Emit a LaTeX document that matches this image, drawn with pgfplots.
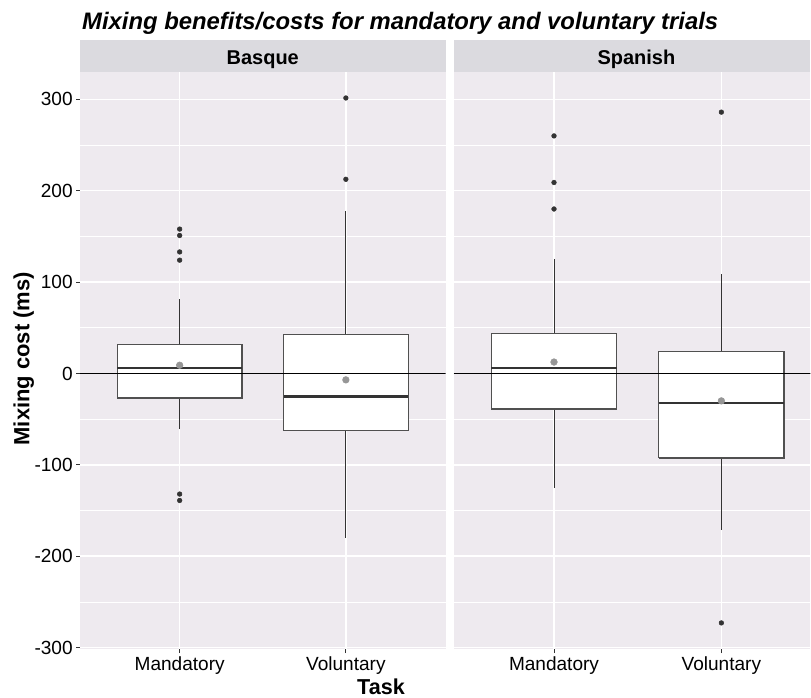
\documentclass[border=0pt]{standalone}
\usepackage{fontspec}
\setmainfont{Liberation Sans}
\usepackage{pgfplots}
\pgfplotsset{compat=1.18}
\definecolor{panelbg}{RGB}{238,234,239}
\definecolor{stripbg}{RGB}{219,218,223}
\definecolor{boxc}{RGB}{80,80,80}
\definecolor{dotc}{RGB}{51,51,51}
\definecolor{meanc}{RGB}{150,150,150}
\pgfplotsset{
  panel/.style={
    scale only axis, height=433.5pt,
    xmin=0.4, ymin=-302, ymax=330,
    axis background/.style={fill=panelbg},
    axis line style={draw=none},
    xtick={1,2}, xticklabels={Mandatory,Voluntary},
    ytick={-300,-200,-100,0,100,200,300},
    minor ytick={-250,-150,-50,50,150,250},
    grid=both,
    major grid style={white, line width=1.1pt},
    minor grid style={white, line width=0.55pt},
    tick align=outside, tick pos=left,
    major tick length=2.75pt, minor tick length=0pt,
    tick style={color=dotc, line width=0.6pt},
    /pgf/number format/assume math mode=true,
    ticklabel style={font=\fontsize{14.3}{16}\selectfont, text=black},
    xticklabel style={inner sep=0pt, yshift=-2.5pt, anchor=north},
    yticklabel style={inner sep=0pt, xshift=-2.5pt, anchor=east},
  },
  outl/.style={only marks, mark=*, mark size=1.75pt, color=dotc},
  meanp/.style={only marks, mark=*, mark size=2.5pt, color=meanc},
  zl/.style={black, line width=0.75pt},
}
% #1 centre, #2 left edge, #3 right edge, #4 lower whisker, #5 Q1, #6 median, #7 Q3, #8 upper whisker
\newcommand{\bx}[8]{%
  \addplot[dotc, line width=0.65pt] coordinates {(#1,#4) (#1,#5)};
  \addplot[dotc, line width=0.65pt] coordinates {(#1,#7) (#1,#8)};
  \addplot[draw=boxc, fill=white, line width=1pt, line join=miter] coordinates {(#2,#5) (#3,#5) (#3,#7) (#2,#7) (#2,#5)};
  \addplot[dotc, line width=1.8pt] coordinates {(#2,#6) (#3,#6)};
}
\begin{document}
\begin{tikzpicture}
\fill[white] (0,0) rectangle (608.25pt,-523.5pt);
% title
\node[anchor=base west, inner sep=0pt, font=\fontsize{17.9}{20}\selectfont\bfseries\itshape] at (61.5pt,-22pt) {Mixing benefits/costs for mandatory and voluntary trials};
% strips
\fill[stripbg] (60pt,-30pt) rectangle (334.5pt,-54pt);
\fill[stripbg] (340.5pt,-30pt) rectangle (608.25pt,-54pt);
\node[anchor=base, inner sep=0pt, font=\fontsize{15}{17}\selectfont\bfseries] at (197.25pt,-48.75pt) {Basque};
\node[anchor=base, inner sep=0pt, font=\fontsize{15}{17}\selectfont\bfseries] at (477.75pt,-48.75pt) {Spanish};
% left panel
\begin{axis}[panel, width=274.5pt, xmax=2.6, at={(60pt,-487.5pt)}, anchor=south west,
  yticklabels={-300,-200,-100,0,100,200,300}]
\bx{1}{0.625}{1.375}{-61}{-27}{6}{32}{82}
\bx{2}{1.625}{2.375}{-180}{-62.5}{-25}{43}{178}
\addplot[outl] coordinates {(1,158) (1,151) (1,133) (1,124) (1,-132) (1,-139) (2,301.5) (2,212.5)};
\addplot[meanp] coordinates {(1,9) (2,-7)};
\addplot[zl] coordinates {(0.4,0) (2.6,0)};
\end{axis}
% right panel (cut at the right edge, as in the original)
\begin{axis}[panel, width=267.75pt, xmax=2.5311, at={(340.5pt,-487.5pt)}, anchor=south west,
  yticklabels={}, ytick style={draw=none}]
\bx{1}{0.625}{1.375}{-125}{-39}{6}{44}{125}
\bx{2}{1.625}{2.375}{-171}{-92.5}{-32.5}{24}{109}
\addplot[outl] coordinates {(1,260) (1,209) (1,180) (2,286) (2,-273)};
\addplot[meanp] coordinates {(1,12.5) (2,-30)};
\addplot[zl] coordinates {(0.4,0) (2.6,0)};
\end{axis}
% axis titles
\node[rotate=90, anchor=base, inner sep=0pt, font=\fontsize{16.5}{19}\selectfont\bfseries] at (22pt,-269.25pt) {Mixing cost (ms)};
\node[anchor=base, inner sep=0pt, font=\fontsize{16.2}{19}\selectfont\bfseries] at (286pt,-521.5pt) {Task};
\end{tikzpicture}
\end{document}
